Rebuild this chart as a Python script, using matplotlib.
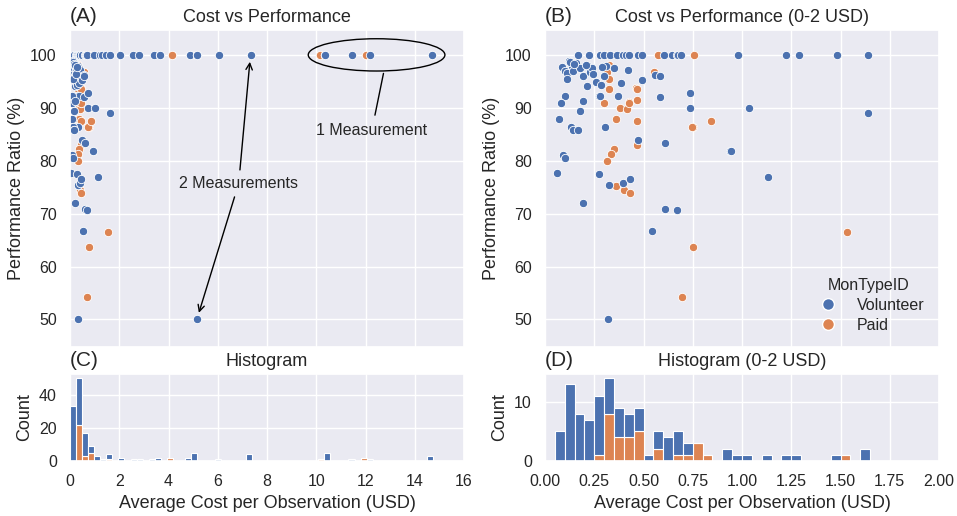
import numpy as np
import matplotlib
matplotlib.use("Agg")
import matplotlib.pyplot as plt
import seaborn as sns
from matplotlib.patches import Ellipse
from matplotlib.lines import Line2D

# ---------- style ----------
sns.set_theme(style="darkgrid")
plt.rcParams["font.family"] = ["Liberation Sans", "DejaVu Sans"]
plt.rcParams.update({
    "axes.labelsize": 13,
    "axes.titlesize": 13,
    "xtick.labelsize": 11.5,
    "ytick.labelsize": 11.5,
})

BLUE = "#4C72B0"
ORANGE = "#DD8452"

# ---------- data ----------
# Volunteer sites: average cost per observation (USD) / performance ratio (%)
vol_cost = [
    # top row (100 %)
    0.17, 0.225, 0.28, 0.30, 0.33, 0.365, 0.395, 0.41, 0.425, 0.47, 0.49,
    0.605, 0.645, 0.67, 0.675, 0.69, 0.98, 1.225, 1.29, 1.48, 1.64,
    2.03, 2.03, 2.54, 2.81, 3.41, 3.65, 3.65, 4.87, 4.87,
    5.15, 5.15, 5.15, 5.15, 6.07, 7.33, 7.33, 7.33, 7.33,
    10.35, 10.35, 10.35, 10.35, 10.35, 11.45, 12.19, 14.72, 14.72, 14.72,
    # the rest
    0.087, 0.102, 0.124, 0.144, 0.156, 0.136, 0.11, 0.144, 0.178, 0.195,
    0.22, 0.229, 0.215, 0.26, 0.283, 0.294, 0.31, 0.297, 0.348, 0.273,
    0.277, 0.373, 0.385, 0.419, 0.492, 0.305, 0.07, 0.101, 0.081, 0.178,
    0.195, 0.131, 0.144, 0.17, 0.56, 0.585, 0.585, 0.738, 0.734, 0.47,
    0.611, 0.941, 0.943, 0.093, 0.102, 0.06, 0.275, 0.323, 0.395, 0.429,
    0.195, 0.611, 0.672, 0.543, 0.32, 1.035, 1.64, 1.131, 0.114,
    0.125, 0.148, 0.24, 0.21, 0.245, 0.29,
    5.15,
]
vol_perf = [
    100, 100, 100, 100, 100, 100, 100, 100, 100, 100, 100,
    100, 100, 100, 100, 100, 100, 100, 100, 100, 100,
    100, 100, 100, 100, 100, 100, 100, 100, 100,
    100, 100, 100, 100, 100, 100, 100, 100, 100,
    100, 100, 100, 100, 100, 100, 100, 100, 100, 100,
    97.7, 96.9, 98.9, 98.5, 98.5, 97.9, 96.5, 97.0, 97.5, 96.0,
    97.9, 96.8, 94.1, 94.9, 94.4, 97.9, 97.9, 96.0, 97.6, 92.2,
    92.2, 92.3, 94.7, 97.1, 95.2, 86.4, 87.8, 92.2, 90.9, 89.4,
    91.2, 86.3, 85.8, 85.8, 96.2, 96.0, 92.0, 92.8, 90.0, 83.9,
    83.3, 81.8, 81.8, 81.1, 80.6, 77.6, 77.4, 75.5, 75.7, 76.5,
    72.0, 70.8, 70.6, 66.7, 50.1, 90.0, 89.0, 76.9, 95.4,
    98.6, 98.2, 97.5, 98.0, 96.3, 97.8,
    50.0,
]

# Paid sites
paid_cost = [
    0.31, 0.575, 0.755, 4.14, 4.14, 10.16, 12.03, 12.03,
    0.327, 0.317, 0.323, 0.323, 0.30, 0.382, 0.416, 0.427, 0.36, 0.463,
    0.467, 0.467, 0.555, 0.753, 0.745, 0.843, 0.467, 0.348, 0.334, 0.314,
    0.361, 0.399, 0.434, 0.753, 0.695, 1.532, 0.428, 0.466,
]
paid_perf = [
    100, 100, 100, 100, 100, 100, 100, 100,
    98.1, 96.8, 95.5, 93.5, 90.9, 90.0, 89.8, 91.1, 87.9, 93.8,
    91.5, 87.5, 96.7, 86.3, 86.4, 87.5, 82.9, 82.2, 81.2, 80.0,
    75.3, 74.5, 73.9, 63.7, 54.2, 66.6, 91.0, 93.6,
]

vol_cost = np.array(vol_cost)
vol_perf = np.array(vol_perf)
paid_cost = np.array(paid_cost)
paid_perf = np.array(paid_perf)

# ---------- layout ----------
W, H = 957, 516
fig = plt.figure(figsize=(W / 100, H / 100), dpi=100)


def box(l, t, r, b):
    return [l / W, 1 - b / H, (r - l) / W, (b - t) / H]


ax_a = fig.add_axes(box(70, 30, 464, 347))
ax_b = fig.add_axes(box(545, 30, 939, 347))
ax_c = fig.add_axes(box(70, 374, 464, 461))
ax_d = fig.add_axes(box(545, 374, 939, 461))

Y_LIM = (44.8, 104.7)


def scatter(ax, vc, vp, pc, pp):
    ax.scatter(pc, pp, s=36, color=ORANGE, edgecolor="white", linewidth=0.6, zorder=2)
    ax.scatter(vc, vp, s=36, color=BLUE, edgecolor="white", linewidth=0.6, zorder=2)


def panel_tag(ax, tag):
    ax.set_title(tag, loc="left", fontsize=15)


# ---------- (A) ----------
scatter(ax_a, vol_cost, vol_perf, paid_cost, paid_perf)
ax_a.set_xlim(0, 16)
ax_a.set_ylim(*Y_LIM)
ax_a.set_xticks(range(0, 17, 2))
ax_a.set_yticks(range(50, 101, 10))
ax_a.tick_params(labelbottom=False)
ax_a.set_ylabel("Performance Ratio (%)")
ax_a.set_title("Cost vs Performance")
panel_tag(ax_a, "(A)")

ax_a.annotate("2 Measurements", xy=(7.33, 100), xytext=(6.85, 75.7),
              ha="center", va="center", fontsize=11.5,
              arrowprops=dict(arrowstyle="->", color="black", lw=1, shrinkB=5))
ax_a.annotate("2 Measurements", xy=(5.15, 50), xytext=(6.85, 75.7),
              ha="center", va="center", fontsize=11.5, color="none",
              arrowprops=dict(arrowstyle="->", color="black", lw=1, shrinkB=5))
ax_a.add_patch(Ellipse((12.45, 100), 5.55, 6.1, fill=False,
                       edgecolor="black", lw=1, zorder=3))
ax_a.annotate("1 Measurement", xy=(12.73, 96.5), xytext=(12.26, 85.8),
              ha="center", va="center", fontsize=11.5,
              arrowprops=dict(arrowstyle="-", color="black", lw=1,
                              shrinkA=3, shrinkB=0))

# ---------- (B) ----------
vm = vol_cost <= 2
pm = paid_cost <= 2
scatter(ax_b, vol_cost[vm], vol_perf[vm], paid_cost[pm], paid_perf[pm])
ax_b.set_xlim(0, 2)
ax_b.set_ylim(*Y_LIM)
ax_b.set_xticks(np.arange(0, 2.01, 0.25))
ax_b.set_yticks(range(50, 101, 10))
ax_b.tick_params(labelbottom=False)
ax_b.set_ylabel("Performance Ratio (%)")
ax_b.set_title("Cost vs Performance (0-2 USD)")
panel_tag(ax_b, "(B)")

handles = [
    Line2D([], [], marker="o", ls="", color=BLUE, markeredgecolor="white", markersize=8.5),
    Line2D([], [], marker="o", ls="", color=ORANGE, markeredgecolor="white", markersize=8.5),
]
ax_b.legend(handles, ["Volunteer", "Paid"], title="MonTypeID", loc="lower right",
            frameon=False, fontsize=11.5, title_fontsize=11.5, labelspacing=0.3)

# ---------- (C) ----------
ax_c.hist([paid_cost, vol_cost], bins=np.linspace(0, 14.75, 61), stacked=True,
          color=[ORANGE, BLUE], edgecolor="white", linewidth=0.8)
ax_c.set_xlim(0, 16)
ax_c.set_xticks(range(0, 17, 2))
ax_c.set_yticks([0, 20, 40])
ax_c.set_ylabel("Count")
ax_c.set_xlabel("Average Cost per Observation (USD)")
ax_c.set_title("Histogram")
panel_tag(ax_c, "(C)")

# ---------- (D) ----------
ax_d.hist([paid_cost[pm], vol_cost[vm]], bins=np.arange(0, 2.0001, 0.05), stacked=True,
          color=[ORANGE, BLUE], edgecolor="white", linewidth=0.8)
ax_d.set_xlim(0, 2)
d_ticks = np.arange(0, 2.01, 0.25)
ax_d.set_xticks(d_ticks)
ax_d.set_xticklabels([f"{t:.2f}" for t in d_ticks])
ax_d.set_yticks([0, 10])
ax_d.set_ylabel("Count")
ax_d.set_xlabel("Average Cost per Observation (USD)")
ax_d.set_title("Histogram (0-2 USD)")
panel_tag(ax_d, "(D)")

fig.savefig("out.png", dpi=100)
